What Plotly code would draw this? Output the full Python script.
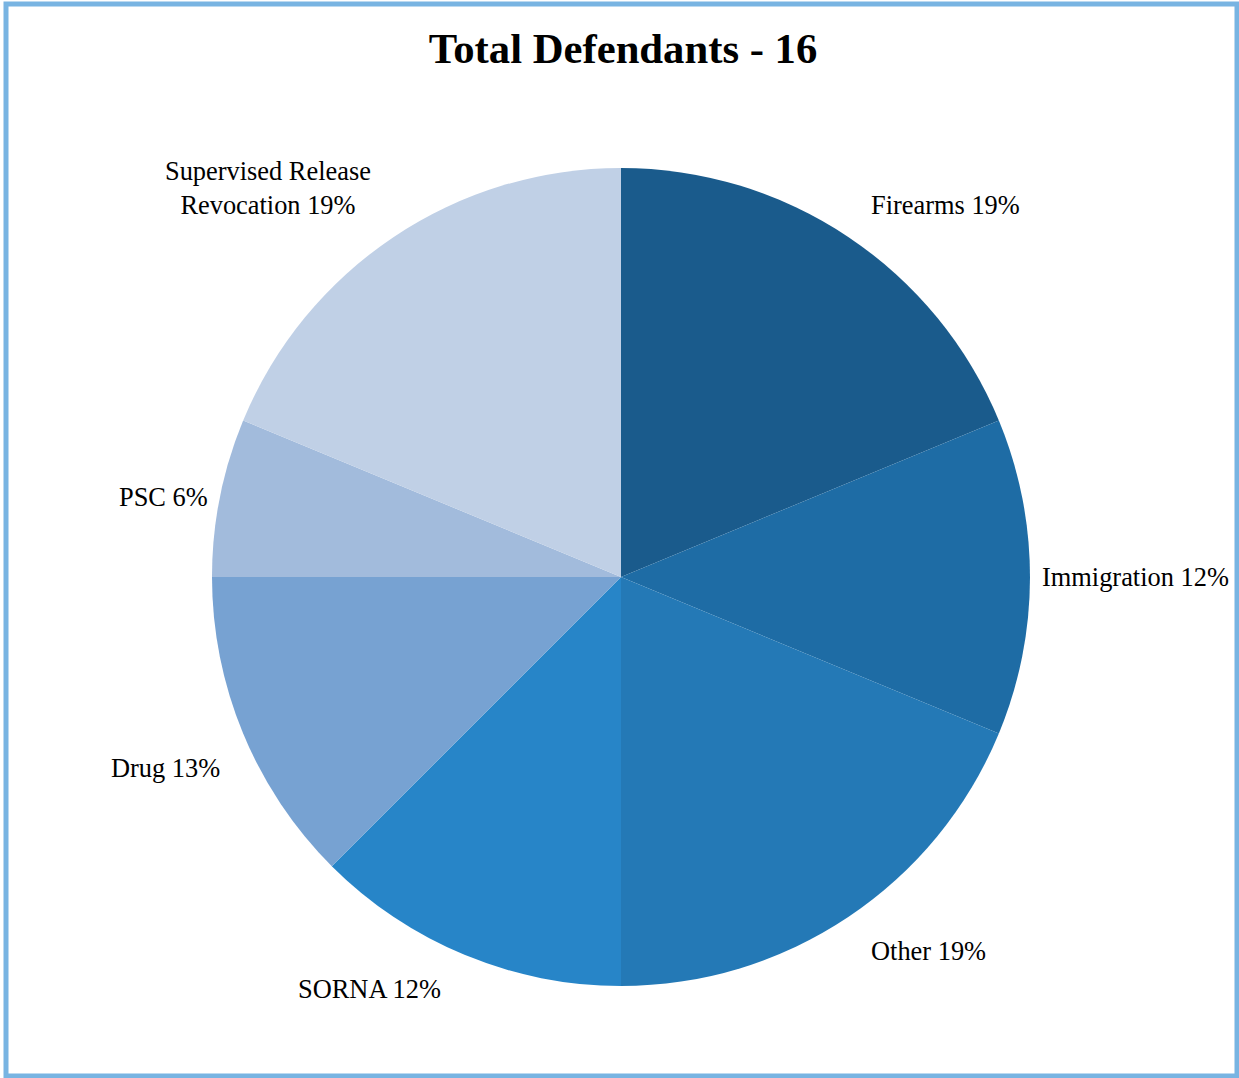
import math
import plotly.graph_objects as go

# ---- data ----
categories = ["Firearms", "Immigration", "Other", "SORNA", "Drug", "PSC",
              "Supervised Release Revocation"]
defendants = [3, 2, 3, 2, 2, 1, 3]
pct_labels = ["19%", "12%", "19%", "12%", "13%", "6%", "19%"]
colors = ["#1a5b8c", "#1e6ca5", "#2479b6", "#2785c8", "#77a2d2", "#a2bbdc", "#c0d0e6"]
title_text = "Total Defendants - " + str(sum(defendants))

# ---- geometry / style ----
W, H = 1239, 1078
cx, cy, R = 621, 577, 409
GX, GX_MID = 22, 11
GY_BOTTOM, GY_TOP = 16, 18
FONT = "Liberation Serif"
BORDER = "#78b4e2"


def wrap(txt, limit=20):
    words, lines, cur = txt.split(" "), [], ""
    for w in words:
        if cur and len(cur) + 1 + len(w) > limit:
            lines.append(cur)
            cur = w
        else:
            cur = (cur + " " + w).strip()
    lines.append(cur)
    return "<br>".join(lines)


fig = go.Figure(go.Pie(
    values=defendants,
    labels=categories,
    sort=False,
    direction="clockwise",
    rotation=0,
    marker=dict(colors=colors, line=dict(width=0)),
    textinfo="none",
    hoverinfo="label+value+percent",
    domain=dict(x=[(cx - R) / W, (cx + R) / W],
                y=[(H - cy - R) / H, (H - cy + R) / H]),
    showlegend=False,
))

annotations = []
total = sum(defendants)
cum = 0
for cat, v, p in zip(categories, defendants, pct_labels):
    mid = (cum + v / 2) / total * 2 * math.pi
    cum += v
    s, c = math.sin(mid), math.cos(mid)
    ex = cx + R * s
    ey = cy - R * c
    middle = abs(c) < 0.3
    gx = GX_MID if middle else GX
    if abs(s) < 0.3:
        xanchor, px = "center", ex
    else:
        xanchor = "left" if s > 0 else "right"
        px = ex + (gx if s > 0 else -gx)
    if middle:
        yanchor, py = "middle", ey
    else:
        yanchor = "bottom" if c > 0 else "top"
        py = ey + (-GY_BOTTOM if c > 0 else GY_TOP)
    annotations.append(dict(
        x=px / W, y=1 - py / H, xref="paper", yref="paper",
        text=wrap(cat + " " + p), showarrow=False, align="center",
        xanchor=xanchor, yanchor=yanchor, borderpad=0,
        font=dict(family=FONT, size=26.4, color="black"),
    ))

fig.update_layout(
    width=W, height=H,
    margin=dict(l=0, r=0, t=0, b=0),
    paper_bgcolor="white", plot_bgcolor="white",
    title=dict(text="<b>" + title_text + "</b>", x=623 / W, xanchor="center",
               y=1 - 48 / H, yanchor="middle",
               font=dict(family=FONT, size=42.7, color="black")),
    annotations=annotations,
    shapes=[dict(type="rect", xref="paper", yref="paper",
                 x0=6 / W, x1=1237 / W, y0=1 - 1076 / H, y1=1 - 4 / H,
                 line=dict(color=BORDER, width=5), layer="above")],
)

fig.write_html("out.html")
